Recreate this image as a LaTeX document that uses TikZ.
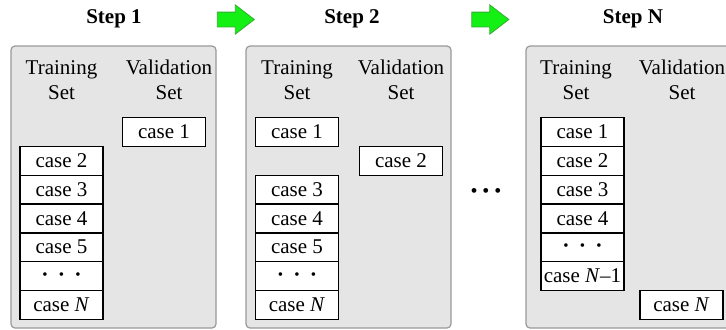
\documentclass[tikz,border=0pt]{standalone}
\usepackage{fontspec}
\setmainfont{Liberation Serif}
\usetikzlibrary{shapes.arrows}
\definecolor{arrfill}{RGB}{20,240,20}
\definecolor{arrline}{RGB}{50,170,50}
\newcommand{\celldots}{{\fontsize{7.5}{7.5}\selectfont\makebox[8.25pt]{\textbullet}\makebox[8.25pt]{\textbullet}\makebox[8.25pt]{\textbullet}}}
\newcommand{\middots}{{\fontsize{10}{10}\selectfont\makebox[6pt]{\textbullet}\makebox[6pt]{\textbullet}\makebox[6pt]{\textbullet}}}

\begin{document}
\begin{tikzpicture}[x=0.5pt,y=-0.5pt,font=\fontsize{10.5}{12.2}\selectfont,
  panel/.style={draw=black!40,fill=black!10,line width=0.6pt,rounded corners=2pt},
  cell/.style={draw,fill=white,line width=0.7pt,minimum width=41.5pt,minimum height=14.4pt,inner sep=0pt},
  hdr/.style={align=center,inner sep=0pt},
  steplbl/.style={font=\fontsize{10.5}{12}\selectfont\bfseries,inner sep=0pt},
  garrow/.style={single arrow,draw=arrline,fill=arrfill,line width=0.4pt,inner xsep=0pt,inner ysep=3.5pt,
    minimum height=18.5pt,single arrow head extend=3.6pt,single arrow tip angle=75}]
  \useasboundingbox (0,0) rectangle (726,329);
  \draw[panel] (11,46) rectangle (216,328);
  \draw[panel] (246,46) rectangle (451,328);
  \draw[panel] (526,46) rectangle (760,328);
  \node[steplbl] (s1) at (114,19) {Step 1};
  \node[steplbl] (s2) at (352,19) {Step 2};
  \node[steplbl] (sn) at (633,19) {Step N};
  \node[garrow] (g1) at (231,19.5) {};
  \node[garrow] (g2) at (485.5,19.5) {};
  \node[hdr] (s1tr) at (61.5,80) {Training\\Set};
  \node[hdr] (s1va) at (169,80) {Validation\\Set};
  \node[hdr] (s2tr) at (297,80) {Training\\Set};
  \node[hdr] (s2va) at (401,80) {Validation\\Set};
  \node[hdr] (sntr) at (576,80) {Training\\Set};
  \node[hdr] (snva) at (682,80) {Validation\\Set};
  \node[cell] (s1v) at (164,132) {case 1};
  \foreach \t [count=\k from 1] in {case 2,case 3,case 4,case 5,\celldots,case \textit{N}}
    \node[cell] (s1t\k) at (61.5,{132+28.8*\k}) {\t};
  \node[cell] (s2t0) at (297,132) {case 1};
  \node[cell] (s2v) at (401,160.8) {case 2};
  \foreach \t [count=\k from 2] in {case 3,case 4,case 5,\celldots,case \textit{N}}
    \node[cell] (s2t\k) at (297,{132+28.8*\k}) {\t};
  \foreach \t [count=\k from 0] in {case 1,case 2,case 3,case 4,\celldots,case \textit{N}–1}
    \node[cell] (snt\k) at (582.5,{132+28.8*\k}) {\t};
  \node[cell] (snv) at (681.5,304.8) {case \textit{N}};
  \node (gap) at (486,193) {\middots};
\end{tikzpicture}
\end{document}
